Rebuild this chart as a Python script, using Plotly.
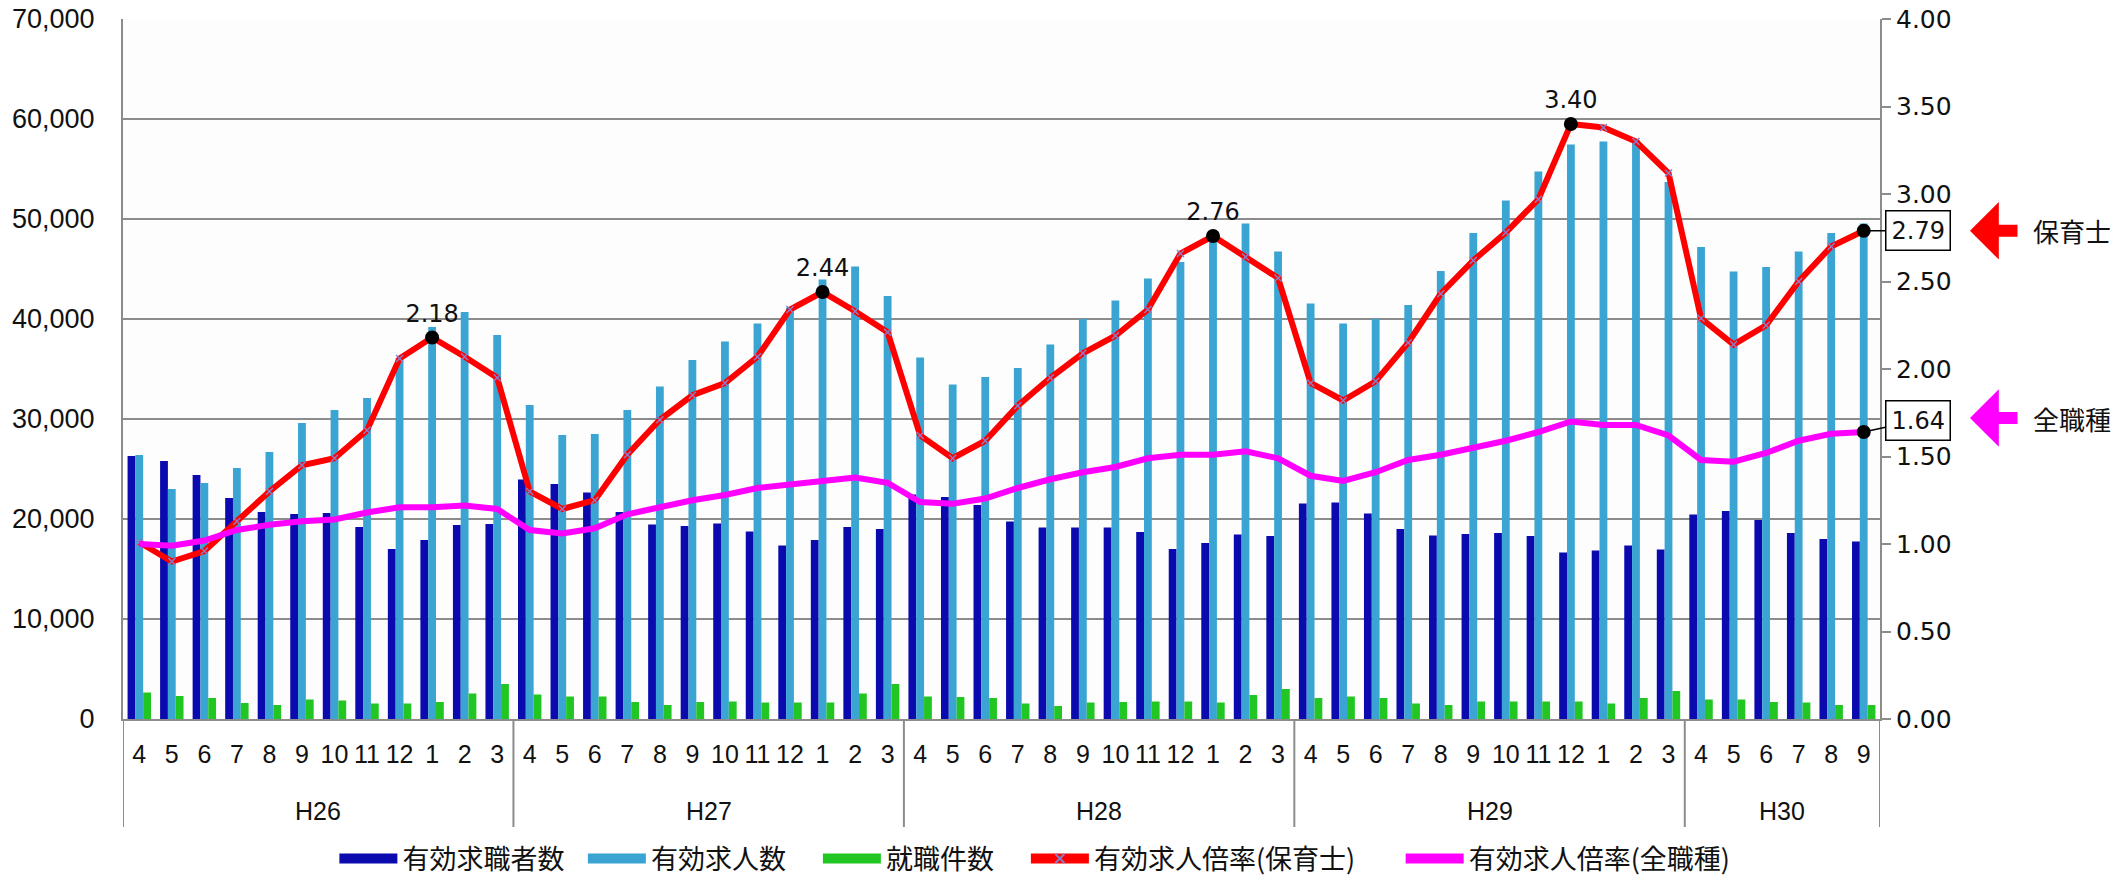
import plotly.graph_objects as go

# ---------------- data ----------------
years = ["H26"] * 12 + ["H27"] * 12 + ["H28"] * 12 + ["H29"] * 12 + ["H30"] * 6
month_cycle = ["4", "5", "6", "7", "8", "9", "10", "11", "12", "1", "2", "3"]
months = month_cycle * 4 + month_cycle[:6]

seekers = [  # 有効求職者数
    26300, 25800, 24400, 22100, 20700, 20500, 20600, 19200, 17000, 17900, 19400, 19500,
    23950, 23500, 22650, 20700, 19450, 19300, 19550, 18750, 17350, 17900, 19200, 19000,
    22450, 22200, 21400, 19750, 19150, 19150, 19150, 18700, 17000, 17600, 18450, 18300,
    21550, 21650, 20550, 19000, 18350, 18500, 18600, 18300, 16650, 16850, 17350, 16950,
    20450, 20800, 19900, 18600, 18000, 17750,
]
openings = [  # 有効求人数
    26400, 23000, 23600, 25100, 26700, 29600, 30900, 32100, 36100, 39200, 40700, 38400,
    31400, 28400, 28500, 30900, 33250, 35900, 37750, 39550, 41150, 43950, 45250, 42300,
    36150, 33450, 34200, 35100, 37450, 40000, 41850, 44050, 45700, 48150, 49550, 46750,
    41550, 39550, 40000, 41400, 44800, 48600, 51850, 54750, 57450, 57750, 57900, 53700,
    47200, 44750, 45200, 46750, 48600, 49550,
]
placements = [  # 就職件数
    2650, 2300, 2100, 1600, 1400, 1950, 1850, 1550, 1550, 1700, 2550, 3500,
    2450, 2250, 2250, 1700, 1400, 1700, 1750, 1650, 1650, 1650, 2550, 3500,
    2250, 2200, 2100, 1550, 1300, 1650, 1700, 1750, 1750, 1650, 2400, 3000,
    2100, 2250, 2100, 1550, 1400, 1750, 1750, 1750, 1750, 1550, 2100, 2800,
    1950, 1950, 1700, 1650, 1400, 1400,
]
ratio_hoiku = [  # 有効求人倍率(保育士)
    1.01, 0.90, 0.96, 1.13, 1.30, 1.45, 1.49, 1.65, 2.06, 2.18, 2.07, 1.95,
    1.30, 1.20, 1.25, 1.51, 1.71, 1.85, 1.92, 2.07, 2.34, 2.44, 2.33, 2.21,
    1.62, 1.49, 1.59, 1.79, 1.95, 2.09, 2.19, 2.34, 2.66, 2.76, 2.64, 2.52,
    1.92, 1.82, 1.93, 2.15, 2.43, 2.62, 2.78, 2.97, 3.40, 3.38, 3.30, 3.12,
    2.29, 2.14, 2.25, 2.50, 2.70, 2.79,
]
ratio_all = [  # 有効求人倍率(全職種)
    1.00, 0.99, 1.02, 1.08, 1.11, 1.13, 1.14, 1.18, 1.21, 1.21, 1.22, 1.20,
    1.08, 1.06, 1.09, 1.17, 1.21, 1.25, 1.28, 1.32, 1.34, 1.36, 1.38, 1.35,
    1.24, 1.23, 1.26, 1.32, 1.37, 1.41, 1.44, 1.49, 1.51, 1.51, 1.53, 1.49,
    1.39, 1.36, 1.41, 1.48, 1.51, 1.55, 1.59, 1.64, 1.70, 1.68, 1.68, 1.62,
    1.48, 1.47, 1.52, 1.59, 1.63, 1.64,
]
peak_idx = [9, 21, 33, 44]          # labelled peaks of the 保育士 ratio
last_idx = len(months) - 1

series_names = ["有効求職者数", "有効求人数", "就職件数", "有効求人倍率(保育士)", "有効求人倍率(全職種)"]
series_colors = ["#0A0AAE", "#3AA4D2", "#22C622", "#FF0000", "#FF00FF"]
end_labels = ["保育士", "全職種"]

# ---------------- figure ----------------
W, H = 2127, 881
L, R, T, B = 123, 247, 19, 162
plot_w = W - L - R
plot_h = H - T - B

CJK = "Noto Sans CJK JP"
NUM = "Liberation Sans Narrow, Arial Narrow, Liberation Sans, sans-serif"
ROUND = "DejaVu Sans, sans-serif"
grid = "#8C8C8C"

xi = list(range(len(months)))
fig = go.Figure()

for vals, name, col in zip([seekers, openings, placements], series_names[:3], series_colors[:3]):
    fig.add_trace(go.Bar(x=xi, y=vals, name=name, marker=dict(color=col, line=dict(width=0)),
                         showlegend=False, yaxis="y"))

fig.add_trace(go.Scatter(x=xi, y=ratio_hoiku, mode="lines+markers", yaxis="y2", showlegend=False,
                         line=dict(color=series_colors[3], width=6),
                         marker=dict(symbol="x-thin", size=7, line=dict(color="#8A7CC8", width=1.5)),
                         name=series_names[3]))
fig.add_trace(go.Scatter(x=xi, y=ratio_all, mode="lines", yaxis="y2", showlegend=False,
                         line=dict(color=series_colors[4], width=6), name=series_names[4]))

# highlighted points
fig.add_trace(go.Scatter(
    x=peak_idx, y=[ratio_hoiku[i] for i in peak_idx], yaxis="y2", mode="markers+text",
    text=[f"{ratio_hoiku[i]:.2f}" for i in peak_idx], textposition="top center",
    textfont=dict(family=ROUND, size=24, color="#111111"),
    marker=dict(color="black", size=14), showlegend=False, hoverinfo="skip"))
fig.add_trace(go.Scatter(
    x=[last_idx, last_idx], y=[ratio_hoiku[last_idx], ratio_all[last_idx]], yaxis="y2",
    mode="markers", marker=dict(color="black", size=14), showlegend=False, hoverinfo="skip"))

# legend-only entries (trailing wide spaces reproduce the reference's spacing)
trail = ["\u2002", "\u3000", "\u3000", "\u3000\u2002", ""]
for k, (name, col) in enumerate(zip(series_names, series_colors)):
    lname = name + trail[k]
    if k < 3:
        fig.add_trace(go.Scatter(x=[None], y=[None], mode="lines", name=lname, xaxis="x3", yaxis="y3",
                                 line=dict(color=col, width=15)))
    elif k == 3:
        fig.add_trace(go.Scatter(x=[None], y=[None], mode="lines+markers", name=lname, xaxis="x3", yaxis="y3",
                                 line=dict(color=col, width=13),
                                 marker=dict(symbol="x-thin", size=9, line=dict(color="#8A7CC8", width=2))))
    else:
        fig.add_trace(go.Scatter(x=[None], y=[None], mode="lines", name=lname, xaxis="x3", yaxis="y3",
                                 line=dict(color=col, width=13)))

fig.update_layout(
    width=W, height=H, margin=dict(l=L, r=R, t=T, b=B, autoexpand=False),
    paper_bgcolor="white", plot_bgcolor="#FDFDFD",
    barmode="group", bargap=0.28, bargroupgap=0.0,
    font=dict(family=CJK, color="#111111"),
    xaxis=dict(range=[-0.5, len(months) - 0.5], tickmode="array", tickvals=xi, ticktext=months,
               tickangle=0, showgrid=False, zeroline=False,
               showline=True, linecolor=grid, linewidth=2, ticks="",
               tickfont=dict(family=NUM, size=25, color="#111111"),
               ticklabelstandoff=12),
    yaxis=dict(range=[0, 70000], dtick=10000, tickformat=",d", showgrid=True,
               gridcolor=grid, gridwidth=2, zeroline=False,
               showline=True, linecolor=grid, linewidth=2, ticks="",
               tickfont=dict(family=NUM, size=27, color="#111111"),
               ticklabelstandoff=21),
    yaxis2=dict(range=[0, 4], dtick=0.5, tickformat=".2f", overlaying="y", side="right",
                showgrid=False, zeroline=False, showline=True, linecolor=grid, linewidth=2,
                ticks="outside", ticklen=9, tickcolor=grid, tickwidth=2,
                tickfont=dict(family=ROUND, size=25, color="#111111")),
    xaxis3=dict(visible=False, overlaying="x", anchor="y3"),
    yaxis3=dict(visible=False, overlaying="y", anchor="x3"),
    legend=dict(orientation="h", x=0.519, xanchor="center", y=-0.2, yanchor="middle",
                font=dict(family=CJK, size=27, color="#111111"), itemwidth=58,
                bgcolor="rgba(0,0,0,0)"),
    showlegend=True,
)

# fiscal-year group labels and dividers
groups = []
for i, yname in enumerate(years):
    if not groups or groups[-1][0] != yname:
        groups.append([yname, i, i])
    else:
        groups[-1][2] = i
div_bottom = -(827 - (T + plot_h)) / plot_h
lab_y = -(811 - (T + plot_h)) / plot_h
for k, (yname, i0, i1) in enumerate(groups):
    fig.add_annotation(x=(i0 + i1) / 2, y=lab_y, xref="x", yref="paper", text=yname, showarrow=False,
                       yanchor="middle", font=dict(family=NUM, size=25, color="#111111"))
    edges = [i0 - 0.5, i1 + 0.5] if k == 0 else [i1 + 0.5]
    for e in edges:
        fig.add_shape(type="line", x0=e, x1=e, xref="x", y0=0, y1=div_bottom, yref="paper",
                      line=dict(color=grid, width=2))

# boxed end values with leader lines
for val, ay in [(ratio_hoiku[last_idx], 0), (ratio_all[last_idx], -12)]:
    fig.add_annotation(x=last_idx, y=val, xref="x", yref="y2", text=f"{val:.2f}",
                       showarrow=True, arrowhead=0, arrowwidth=1.5, arrowcolor="black",
                       ax=54, ay=ay, axref="pixel", ayref="pixel",
                       bordercolor="black", borderwidth=1.5, borderpad=5, bgcolor="white",
                       font=dict(family=ROUND, size=24, color="#111111"))

# pointer arrows with series names
tip_px = 1970
for label, val, col in [(end_labels[0], ratio_hoiku[last_idx], series_colors[3]),
                        (end_labels[1], ratio_all[last_idx] + 0.08, series_colors[4])]:
    fig.add_annotation(x=(tip_px - L) / plot_w, y=val, xref="paper", yref="y2", text=label,
                       showarrow=True, arrowhead=1, arrowsize=0.8, arrowwidth=12, arrowcolor=col,
                       startstandoff=14, ax=102, ay=0,
                       font=dict(family=CJK, size=26, color="#111111"))

fig.write_html("out.html")
